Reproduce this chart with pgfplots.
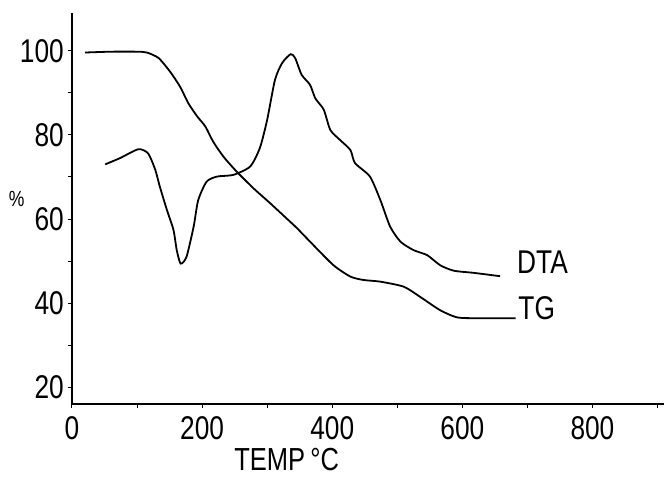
\documentclass[border=0pt]{standalone}
\usepackage{pgfplots}
\pgfplotsset{compat=1.18}
\usepackage{fontspec}
\setmainfont{Liberation Sans}[FakeStretch=0.8]
\begin{document}
\begin{tikzpicture}
\begin{axis}[
  scale only axis,
  width=592bp, height=391bp,
  xmin=0, xmax=910, ymin=16, ymax=109,
  axis lines=left,
  axis line style={-, line width=1.2bp},
  xtick={0,200,400,600,800},
  ytick={20,40,60,80,100},
  minor xtick={100,300,500,700,900},
  minor ytick={30,50,70,90},
  tick align=outside,
  major tick length=4bp, minor tick length=4bp,
  every tick/.style={black, line width=1bp},
  tick label style={font=\fontsize{33}{36}\selectfont},
  /pgf/number format/assume math mode=true,
  /pgf/number format/1000 sep={},
  xticklabel style={inner sep=0pt, yshift=-8bp},
  yticklabel style={inner sep=0pt, xshift=-4bp},
  clip=false,
]
\addplot[black, line width=1.8bp, smooth, tension=0.4] coordinates {
(20,99.6)(60,99.8)(100,99.8)(115,99.6)(133,98.3)(151,95)(166,91.5)(179,87.5)(192,84.5)(205,82)(217,78.4)(233,74.8)(253,71.3)(279,67.3)(305,63.7)(335,59.4)(346,57.8)(371,53.8)(402,49)(428,46.3)(448,45.5)(474,45.1)(510,43.9)(535,41.5)(566,38.3)(592,36.6)(623,36.4)(682,36.4)
};
\addplot[black, line width=1.8bp, smooth, tension=0.4] coordinates {
(51,73)(74,74.5)(102,76.6)(117,75.6)(128,71.7)(135,67.7)(146,62.1)(156,57.4)(161,52.6)(167,49.4)(176,51)(187,58.2)(194,64.5)(207,68.9)(223,70.1)(248,70.5)(274,72.5)(289,77)(300,83.6)(312,93.1)(323,97.1)(336,99.2)(343,98.3)(353,94.3)(366,91.9)(374,88.7)(387,86)(397,81.2)(412,78.8)(428,76.4)(435,73.3)(458,70.1)(474,64.5)(489,58.2)(505,54.6)(525,52.6)(546,51.4)(566,49)(587,47.7)(617,47.2)(658,46.4)
};
\node[anchor=base west, inner sep=0pt, font=\fontsize{33}{36}\selectfont] at (axis cs:684,47.1) {DTA};
\node[anchor=base west, inner sep=0pt, font=\fontsize{33}{36}\selectfont] at (axis cs:686,36.0) {TG};
\node[anchor=base, inner sep=0pt, font=\fontsize{32}{34}\selectfont] at (axis cs:330,0.2) {TEMP\,°C};
\node[inner sep=0pt, font=\fontsize{22}{24}\selectfont] at (axis cs:-85,64.8) {\%};
\end{axis}
\pgfresetboundingbox
\path[use as bounding box] (-72bp,-76bp) rectangle (592bp,404bp);
\end{tikzpicture}
\end{document}
